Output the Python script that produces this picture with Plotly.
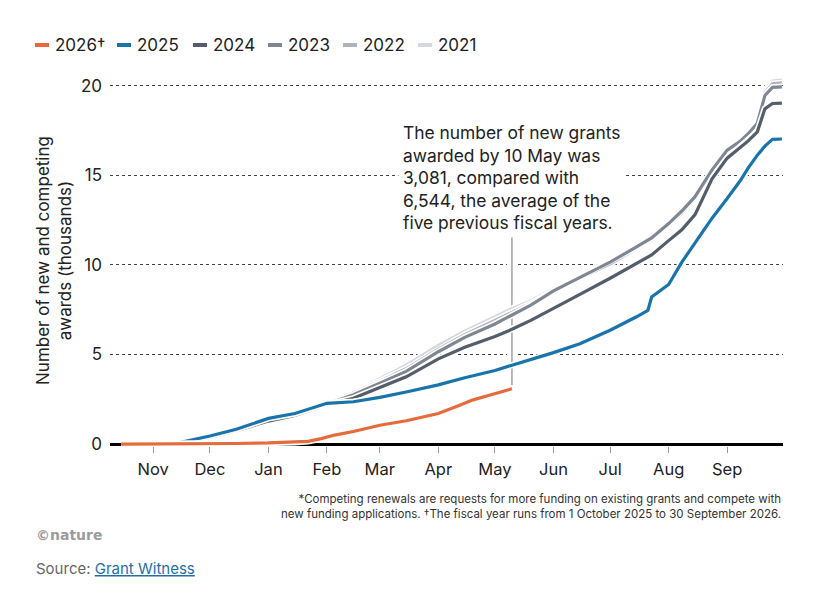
import plotly.graph_objects as go

# ---------------- data (thousands of new & competing awards, cumulative) ----------------
dates = ["2025-10-15", "2025-11-08", "2025-11-15", "2025-12-01", "2025-12-15", "2026-01-01",
         "2026-01-15", "2026-02-01", "2026-02-15", "2026-03-01", "2026-03-15", "2026-04-01",
         "2026-04-15", "2026-05-01", "2026-05-10", "2026-05-20", "2026-06-01", "2026-06-15",
         "2026-07-01", "2026-07-15", "2026-07-21", "2026-07-23", "2026-08-01", "2026-08-08",
         "2026-08-15", "2026-08-24", "2026-09-01", "2026-09-08", "2026-09-12", "2026-09-17",
         "2026-09-21", "2026-09-25", "2026-09-30"]

y2025 = [0, 0, 0.08, 0.45, 0.82, 1.43, 1.70, 2.27, 2.36, 2.60, 2.90, 3.30, 3.70, 4.10, 4.40,
         4.70, 5.10, 5.60, 6.35, 7.10, 7.45, 8.20, 8.90, 10.15, 11.25, 12.60, 13.70, 14.70,
         15.38, 16.12, 16.62, 17.00, 17.02]
y2024 = [0, 0, 0.08, 0.38, 0.75, 1.28, 1.60, 2.20, 2.55, 3.15, 3.75, 4.75, 5.40, 6.00, 6.40,
         6.90, 7.55, 8.35, 9.25, 10.05, 10.40, 10.55, 11.35, 11.95, 12.80, 14.80, 15.95, 16.55,
         16.90, 17.42, 18.70, 19.00, 19.02]
y2023 = [0, 0, 0.08, 0.35, 0.72, 1.25, 1.60, 2.25, 2.75, 3.40, 4.05, 5.15, 5.95, 6.70, 7.20,
         7.75, 8.55, 9.30, 10.15, 11.00, 11.35, 11.50, 12.30, 13.00, 13.80, 15.30, 16.40, 16.90,
         17.30, 17.90, 19.45, 19.90, 19.93]
y2022 = [0, 0, 0.10, 0.38, 0.75, 1.30, 1.62, 2.30, 2.85, 3.50, 4.20, 5.30, 6.10, 6.90, 7.35,
         7.85, 8.55, 9.25, 10.05, 10.90, 11.25, 11.40, 12.20, 12.90, 13.70, 15.10, 16.20, 16.70,
         17.10, 17.70, 19.60, 20.10, 20.15]
y2021 = [0, 0, 0.10, 0.38, 0.75, 1.30, 1.62, 2.35, 2.95, 3.65, 4.40, 5.50, 6.30, 7.10, 7.55,
         8.00, 8.65, 9.30, 10.10, 10.90, 11.20, 11.35, 12.15, 12.85, 13.65, 15.00, 16.10, 16.60,
         17.00, 17.60, 19.75, 20.25, 20.30]

dates2026 = ["2025-10-15", "2025-11-01", "2025-12-01", "2025-12-15", "2026-01-01", "2026-01-15",
             "2026-01-22", "2026-01-29", "2026-02-05", "2026-02-15", "2026-03-01", "2026-03-15",
             "2026-04-01", "2026-04-12", "2026-04-19", "2026-04-28", "2026-05-05", "2026-05-10"]
y2026 = [0, 0, 0.01, 0.03, 0.06, 0.10, 0.15, 0.30, 0.50, 0.70, 1.05, 1.30, 1.70, 2.15, 2.45,
         2.72, 2.95, 3.08]

series = [("2021", dates, y2021, "#D5D8DD"),
          ("2022", dates, y2022, "#AEB3BA"),
          ("2023", dates, y2023, "#7F8792"),
          ("2024", dates, y2024, "#545D6A"),
          ("2025", dates, y2025, "#1A74AC"),
          ("2026†", dates2026, y2026, "#E66B3B")]

legend_order = ["2026†", "2025", "2024", "2023", "2022", "2021"]

month_ticks = ["2025-11-01", "2025-12-01", "2026-01-01", "2026-02-01", "2026-03-01",
               "2026-04-01", "2026-05-01", "2026-06-01", "2026-07-01", "2026-08-01",
               "2026-09-01"]
month_labels = ["Nov", "Dec", "Jan", "Feb", "Mar", "Apr", "May", "Jun", "Jul", "Aug", "Sep"]

annot_date = "2026-05-10"
annot_text = ("The number of new grants<br>awarded by 10 May was<br>3,081, compared with<br>"
              "6,544, the average of the<br>five previous fiscal years.")

FONT = "Inter, Roboto, 'Noto Sans', sans-serif"
TXT = "#222222"

fig = go.Figure()

# lines with white halo
for name, xs, ys, col in series:
    fig.add_trace(go.Scatter(x=xs, y=ys, mode="lines", showlegend=False, hoverinfo="skip",
                             line=dict(color="white", width=6.5)))
    fig.add_trace(go.Scatter(x=xs, y=ys, mode="lines", showlegend=False, name=name,
                             line=dict(color=col, width=3.2)))

W, H = 820, 608
L, R, T, B = 110, 37, 75, 162
PW, PH = W - L - R, H - T - B


def px_x(p):
    return (p - L) / PW


def px_y(p):
    return (H - B - p) / PH


fig.update_layout(
    width=W, height=H,
    margin=dict(l=L, r=R, t=T, b=B, pad=0),
    paper_bgcolor="white", plot_bgcolor="white",
    font=dict(family=FONT, size=17, color=TXT),
    showlegend=False,
    xaxis=dict(range=["2025-10-09 02:00", "2026-09-30 14:00"], tickvals=month_ticks,
               ticktext=month_labels, ticks="outside", ticklen=6, tickwidth=1.2,
               tickcolor="#9a9a9a", showgrid=False, zeroline=False, showline=False,
               tickfont=dict(size=16.5, color=TXT), ticklabelstandoff=2),
    yaxis=dict(range=[-0.11, 20.59], tickvals=[0, 5, 10, 15, 20],
               ticks="", showgrid=True, gridcolor="#444444", griddash="dot", gridwidth=1,
               zeroline=True, zerolinecolor="#000000", zerolinewidth=3,
               showline=False, tickfont=dict(size=17, color=TXT), ticklabelstandoff=7,
               title=dict(text="Number of new and competing<br>awards (thousands)",
                          font=dict(size=17, color=TXT), standoff=4)),
)

# legend (short dash + label), laid out in a row along the top
colmap = {n: c for n, _, _, c in series}
legend_x = [35, 117, 193, 268, 343, 418]
for name, x0 in zip(legend_order, legend_x):
    fig.add_shape(type="line", xref="paper", yref="paper", x0=px_x(x0), x1=px_x(x0 + 14),
                  y0=px_y(45), y1=px_y(45), line=dict(color=colmap[name], width=4))
    fig.add_annotation(xref="paper", yref="paper", x=px_x(x0 + 18), y=px_y(45),
                       xanchor="left", yanchor="middle", showarrow=False, text=name,
                       font=dict(family=FONT, size=17, color=TXT))

# white gap in gridlines around the annotation line, then the line itself
fig.add_shape(type="line", xref="x", yref="y", x0=annot_date, x1=annot_date,
              y0=3.3, y1=11.8, line=dict(color="white", width=10), layer="between")
fig.add_shape(type="line", xref="x", yref="y", x0=annot_date, x1=annot_date,
              y0=3.3, y1=11.8, line=dict(color="#8a8a8a", width=1.2), layer="between")

fig.add_annotation(xref="paper", yref="paper", x=px_x(398), y=px_y(117),
                   xanchor="left", yanchor="top", align="left", showarrow=False,
                   text=annot_text, bgcolor="white", borderpad=4,
                   font=dict(family=FONT, size=17.4, color=TXT))

# footnotes
fig.add_annotation(xref="paper", yref="paper", x=px_x(783), y=px_y(490),
                   xanchor="right", yanchor="top", align="right", showarrow=False,
                   text=("*Competing renewals are requests for more funding on existing grants and compete with<br>"
                         "new funding applications. †The fiscal year runs from 1 October 2025 to 30 September 2026."),
                   font=dict(family=FONT, size=11.5, color="#333333"))

fig.add_annotation(xref="paper", yref="paper", x=px_x(34), y=px_y(535),
                   xanchor="left", yanchor="middle", showarrow=False, text="<b>©nature</b>",
                   font=dict(family="'DejaVu Sans', sans-serif", size=14, color="#9b9b9b"))

fig.add_annotation(xref="paper", yref="paper", x=px_x(34), y=px_y(568),
                   xanchor="left", yanchor="middle", showarrow=False,
                   text=("Source: <a href='https://grant-witness.us' style='color:#1F6FA8'>"
                         "<u>Grant Witness</u></a>"),
                   font=dict(family=FONT, size=15, color="#666666"))

fig.write_html("out.html")
